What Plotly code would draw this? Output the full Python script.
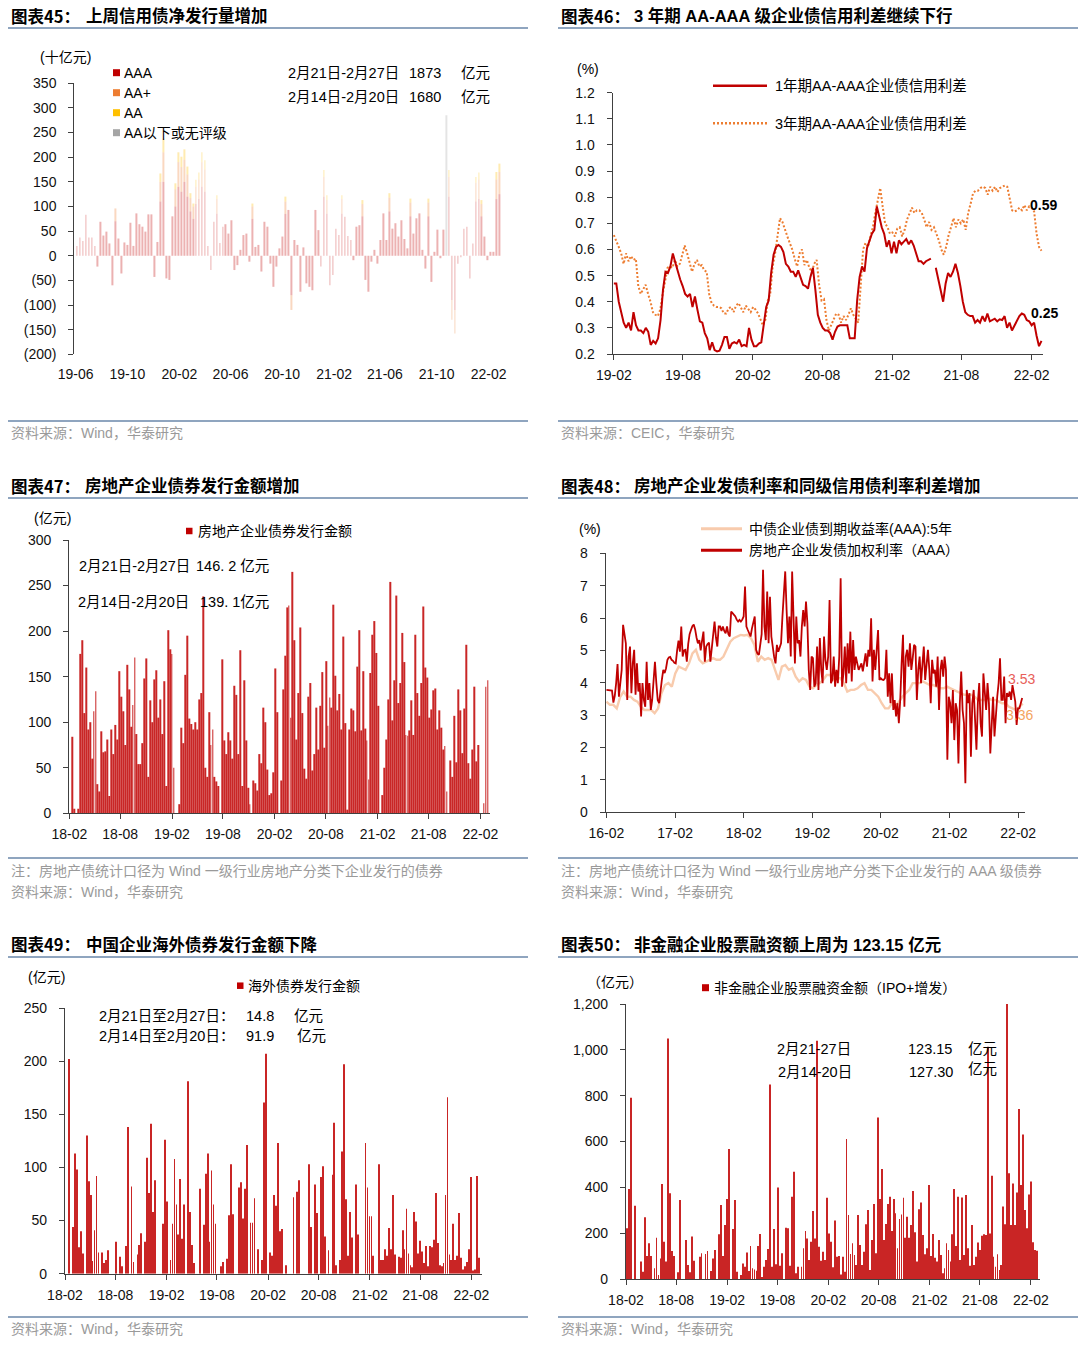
import plotly.graph_objects as go
import pandas as pd

W, H = 1080, 1345
CJK = "Noto Sans CJK SC"
MIX = "Liberation Sans, Noto Sans CJK SC"
LAT = "Liberation Sans, Arial, sans-serif"
RED = "#C00000"
AXIS = "#404040"
DAY = 86400000

# ---------------- 图表45: weekly net issuance by rating (十亿元) ----------------
p1_aaa = [20,37,30,83,37,37,20,-22,69,41,
          49,25,-60,70,35,-36,27,22,67,20,
          86,64,59,49,84,84,-43,28,110,150,
          -46,-49,80,100,140,130,150,120,90,75,
          105,115,140,130,20,-29,69,85,26,59,
          64,45,72,-29,-19,12,42,45,-12,75,
          18,22,-32,69,59,-16,-63,-22,15,39,
          85,93,-80,32,22,-73,17,-56,-63,-70,
          93,52,-22,120,85,-60,-39,55,42,85,
          79,40,32,-9,59,62,80,-49,-73,-12,
          12,-16,32,86,32,90,55,66,39,72,
          34,15,80,45,76,86,12,-26,80,-53,
          8,53,-5,53,0,120,-90,-110,-16,-2,
          55,59,-46,25,110,115,80,39,-9,8,
          8,115,125]
p1_aap = [0,0,0,0,0,0,0,0,0,0,
          0,0,0,26,0,0,0,0,0,0,
          0,0,0,0,0,0,0,0,40,60,
          0,0,0,35,50,50,45,45,27,25,
          35,40,50,45,0,0,0,30,0,0,
          0,0,0,0,0,0,0,0,0,25,
          0,0,0,0,0,0,0,0,0,0,
          25,0,-30,0,0,0,0,0,0,0,
          0,0,0,40,28,0,0,0,0,30,
          0,0,0,0,0,0,25,0,0,0,
          0,0,0,0,0,28,0,0,0,0,
          0,0,28,0,0,0,0,0,28,0,
          0,0,0,0,0,40,-40,-48,0,0,
          0,0,0,0,38,40,25,0,0,0,
          0,40,45]
p1_aa = [0,0,0,0,0,0,0,0,0,0,
         0,0,0,0,0,0,0,0,0,0,
         0,0,0,0,0,0,0,0,17,28,
         0,0,0,12,20,21,21,16,10,6,
         14,14,20,19,0,0,0,8,0,0,
         0,0,0,0,0,0,0,0,0,6,
         0,0,0,0,0,0,0,0,0,0,
         10,0,0,0,0,0,0,0,0,0,
         0,0,0,14,10,0,0,0,0,8,
         0,0,0,0,0,0,8,0,0,0,
         0,0,0,0,0,9,0,0,0,0,
         0,0,8,0,0,0,0,0,8,0,
         0,0,0,0,0,14,0,0,0,0,
         0,0,0,0,12,14,8,0,0,0,
         0,15,17]
p1_below = [0,0,0,0,0,0,0,0,0,0,
            0,0,0,0,0,0,0,0,0,0,
            0,0,0,0,0,0,0,0,0,0,
            0,0,0,0,0,0,0,0,0,0,
            0,0,0,0,0,0,0,0,0,0,
            0,0,0,0,0,0,0,0,0,0,
            0,0,0,0,0,0,0,0,0,0,
            0,0,0,0,0,0,0,0,0,0,
            0,0,0,0,0,0,0,0,0,0,
            0,0,0,0,0,0,0,0,0,0,
            0,0,0,0,0,0,0,0,0,0,
            0,0,0,0,0,0,0,0,0,0,
            0,0,0,0,285,0,0,0,0,0,
            0,0,0,0,0,0,0,0,0,0,
            0,0,0]
p1_dates = pd.date_range("2019-06-04", "2022-02-27", periods=len(p1_aaa))
p1_yticks = [350, 300, 250, 200, 150, 100, 50, 0, -50, -100, -150, -200]
p1_yticktext = ["350", "300", "250", "200", "150", "100", "50", "0", "(50)", "(100)", "(150)", "(200)"]

# ---------------- 图表46: AA-AAA credit spreads (%) ----------------
p2_1y = [0.47,0.47,0.40,0.36,0.32,0.30,0.32,0.29,0.36,0.31,
         0.29,0.29,0.28,0.30,0.285,0.235,0.25,0.24,0.26,0.33,
         0.445,0.515,0.51,0.535,0.585,0.55,0.515,0.485,0.46,0.43,
         0.42,0.43,0.38,0.42,0.37,0.325,0.32,0.28,0.26,0.215,
         0.245,0.215,0.21,0.213,0.235,0.265,0.265,0.22,0.24,0.245,
         0.24,0.255,0.23,0.235,0.23,0.30,0.255,0.23,0.23,0.24,
         0.245,0.31,0.38,0.405,0.51,0.58,0.61,0.617,0.61,0.59,
         0.545,0.535,0.515,0.515,0.495,0.52,0.49,0.465,0.46,0.45,
         0.495,0.53,0.445,0.35,0.32,0.30,0.29,0.29,0.28,0.255,
         0.285,0.305,0.31,0.31,0.31,0.31,0.26,0.26,0.26,0.405,
         0.495,0.535,0.515,0.605,0.635,0.66,0.675,0.765,0.725,0.685,
         0.66,0.61,0.635,0.585,0.63,0.585,0.635,0.62,0.63,0.64,
         0.62,0.635,0.615,0.585,0.555,0.555,0.545,0.555,0.56,0.565,
         None,0.53,0.485,0.445,0.40,0.47,0.51,0.495,0.515,0.545,
         0.51,0.46,0.40,0.36,0.35,0.345,0.345,0.32,0.33,0.32,
         0.345,0.325,0.355,0.325,0.33,0.335,0.325,0.333,0.33,0.345,
         0.30,0.32,0.29,0.31,0.325,0.345,0.355,0.35,0.33,0.325,
         0.31,0.32,0.27,0.23,0.25]
p2_3y = [0.655,0.635,0.61,0.585,0.545,0.585,0.555,0.575,0.56,0.565,
         0.46,0.43,0.445,0.465,0.43,0.40,0.36,0.35,0.345,0.37,
         0.43,0.485,0.53,0.535,0.53,0.56,0.535,0.545,0.585,0.615,
         0.585,0.545,0.515,0.545,0.56,0.535,0.54,0.52,0.515,0.43,
         0.395,0.385,0.38,0.38,0.375,0.355,0.355,0.375,0.38,0.36,
         0.385,0.395,0.375,0.36,0.385,0.37,0.36,0.38,0.37,0.355,
         0.335,0.31,0.33,0.405,0.43,0.535,0.585,0.66,0.72,0.705,
         0.675,0.65,0.625,0.60,0.565,0.535,0.585,0.60,0.54,0.56,
         0.53,0.515,0.545,0.56,0.465,0.405,0.41,0.33,0.29,0.31,
         0.33,0.355,0.35,0.32,0.345,0.33,0.35,0.375,0.35,0.335,
         0.32,0.46,0.60,0.625,0.61,0.65,0.685,0.74,0.79,0.835,
         0.765,0.70,0.685,0.66,0.665,0.65,0.68,0.685,0.65,0.675,
         0.715,0.74,0.76,0.74,0.75,0.75,0.74,0.715,0.685,0.705,
         0.675,0.685,0.66,0.635,0.60,0.58,0.61,0.655,0.685,0.72,
         0.685,0.715,0.70,0.715,0.675,0.74,0.775,0.815,0.825,0.825,
         0.835,0.84,0.835,0.81,0.84,0.825,0.84,0.82,0.835,0.84,
         0.845,0.84,0.80,0.75,0.745,0.75,0.76,0.75,0.77,0.75,
         0.765,0.76,0.745,0.66,0.61,0.595]
p2_1y_dates = pd.date_range("2019-02-01", "2022-02-27", periods=len(p2_1y))
p2_3y_dates = pd.date_range("2019-02-01", "2022-02-27", periods=len(p2_3y))

# ---------------- 图表47: real-estate bond issuance (亿元) ----------------
p3_issue = [0,84,5,0,5,175,190,110,160,92,
            100,60,112,134,32,24,90,67,68,81,
            19,92,65,97,81,156,128,112,75,163,
            136,95,119,171,87,54,54,77,148,170,
            40,124,100,147,157,105,125,87,145,30,
            201,180,175,50,0,0,10,94,77,152,
            195,104,98,92,100,92,125,132,238,50,
            40,111,75,92,40,35,30,0,169,80,
            65,89,80,60,140,130,65,179,30,146,
            80,28,10,0,36,33,25,65,55,116,
            100,48,20,22,45,159,111,0,
            36,136,173,226,228,105,265,190,81,132,
            204,110,49,38,128,143,47,65,116,70,
            118,155,72,167,96,127,116,229,151,113,
            131,92,194,99,4,92,115,113,90,161,
            201,91,156,93,80,37,154,196,211,176,
            118,0,20,50,81,125,254,102,146,239,
            121,143,198,166,86,85,91,124,86,196,
            132,107,143,227,160,149,105,114,135,137,
            92,113,94,70,74,24,0,58,40,107,
            56,136,113,66,115,185,55,38,70,139,
            57,75,0,0,11,139,146]
p3_dates = pd.date_range("2018-02-05", "2022-02-27", periods=len(p3_issue))

# ---------------- 图表48: yields (%) ----------------
p4_rate = [3.78,3.78,3.78,3.77,3.76,3.39,3.6,3.99,4.58,3.57,3.9,4.40,5.79,5.4,5.22,3.47,4.81,5.12,3.68,4.60,
           5.02,3.63,4.60,3.73,3.99,2.96,3.99,3.47,3.26,4.65,3.47,3.99,3.16,3.47,3.99,4.65,3.99,3.47,3.37,
           3.8,4.1,4.4,4.3,4.45,4.71,4.78,4.8,4.71,4.68,4.62,4.6,5.0,5.3,4.96,5.74,
           4.81,5.0,5.02,4.65,5.2,5.5,5.63,5.75,5.8,5.65,
           5.4,5.22,5.32,5.0,5.3,5.58,4.65,5.12,5.2,5.24,
           4.65,5.1,5.32,5.89,5.4,5.12,5.74,5.74,5.6,5.74,
           5.6,5.53,5.74,5.5,5.43,6.20,6.15,6.1,6.05,5.95,
           5.89,5.94,5.89,5.95,6.05,6.97,5.74,5.63,5.5,5.43,
           5.68,5.9,6.05,5.02,4.9,4.86,5.17,5.5,7.49,5.74,
           5.32,6.82,5.22,6.66,5.43,5.02,4.80,4.60,5.17,4.96,
           5.1,5.22,6.05,6.66,7.44,6.25,5.22,6.05,4.81,7.44,
           5.84,4.60,6.05,5.22,5.32,4.81,5.74,6.25,5.74,6.51,
           5.84,4.40,3.78,4.81,4.76,3.88,3.99,5.12,3.78,5.38,
           4.40,3.99,5.43,4.71,4.40,4.81,6.56,3.99,4.09,4.81,
           3.88,4.40,3.99,4.81,7.23,3.88,4.29,5.12,3.99,5.22,
           4.29,5.58,4.04,5.32,4.40,4.81,4.60,4.40,4.5,4.60,
           4.35,4.7,4.91,4.5,5.02,4.81,5.99,4.04,5.02,4.40,
           5.22,5.63,4.09,4.14,4.1,4.09,4.14,5.02,3.57,
           4.29,3.37,4.29,3.16,3.47,2.96,3.37,2.75,3.47,4.60,
           5.48,3.26,4.81,5.02,4.50,5.22,4.40,4.76,5.17,5.12,
           3.47,4.40,4.81,3.99,4.65,5.12,4.09,4.65,5.02,4.40,
           3.37,4.71,4.29,4.40,3.88,4.81,3.16,4.40,4.71,4.19,
           4.81,4.40,1.62,3.57,3.37,2.75,3.78,2.23,3.37,3.16,
           1.51,3.37,4.35,3.16,2.75,0.90,3.78,3.37,3.68,1.72,
           3.37,3.78,2.54,1.93,3.37,3.99,2.75,2.34,4.29,3.57,
           3.16,3.99,3.37,1.82,2.96,3.57,2.34,3.16,3.57,3.99,
           4.76,3.47,3.47,4.19,2.75,3.68,3.57,3.73,3.47,3.93,
           3.68,3.42,2.70,3.21,3.21,3.37,3.53]
p4_yield = [3.42,3.32,3.32,3.21,3.57,3.73,3.57,3.57,3.47,3.42,
            3.26,3.16,3.16,3.16,3.06,3.21,3.68,3.93,3.99,3.88,
            4.29,4.50,4.45,4.40,4.60,4.91,5.02,4.71,4.60,4.65,
            4.71,4.76,4.71,4.71,4.81,5.02,5.27,5.38,5.43,5.48,
            5.46,5.48,5.38,5.17,4.65,4.81,4.71,4.76,4.71,4.40,
            4.09,4.50,4.55,4.40,4.45,4.19,4.04,4.14,4.09,3.88,
            3.83,3.93,3.99,4.09,4.24,4.24,4.09,4.14,4.14,3.99,
            3.73,3.78,3.78,3.83,3.93,3.99,3.78,3.78,3.68,3.57,
            3.37,3.21,3.21,3.37,3.26,3.42,3.57,3.68,3.78,3.99,
            3.99,3.99,4.04,3.99,3.93,3.93,3.88,3.83,3.83,3.88,
            3.83,3.78,3.73,3.68,3.63,3.63,3.63,3.57,3.47,3.47,
            3.47,3.52,3.47,3.47,3.42,3.37,3.37,3.26,3.21,3.16,
            3.26,3.36]
p4_rate_dates = pd.date_range("2016-02-01", "2022-02-22", periods=len(p4_rate))
p4_yield_dates = pd.date_range("2016-02-01", "2022-02-25", periods=len(p4_yield))

# ---------------- 图表49: overseas bond issuance (亿元) ----------------
p5_overseas = [0,0,202,0,44,113,98,25,40,19,
               0,130,87,74,12,41,92,20,0,20,
               10,13,22,0,0,0,30,0,16,7,
               0,26,138,0,82,11,0,18,27,38,
               0,30,109,76,141,58,88,0,0,0,
               47,126,68,0,13,47,108,65,37,89,
               33,65,0,181,58,27,10,0,0,80,
               0,46,94,113,30,97,65,47,0,0,
               7,11,0,14,55,103,56,0,0,81,
               86,52,80,121,0,48,48,71,0,23,
               0,13,161,207,0,20,17,74,64,123,
               40,42,0,8,0,0,0,72,0,77,
               88,0,0,0,0,103,44,0,84,57,
               0,91,101,35,0,22,0,93,142,8,
               0,13,115,197,70,17,58,34,0,84,
               37,0,0,0,123,81,54,54,17,0,
               0,103,13,13,23,17,43,23,74,18,
               0,16,15,41,23,61,19,8,6,58,
               49,19,31,21,10,26,7,26,25,32,
               76,29,8,7,10,74,166,18,13,47,
               13,17,57,15,4,7,11,23,91,3,
               4,92,15]
p5_dates = pd.date_range("2018-02-02", "2022-02-27", periods=len(p5_overseas))

# ---------------- 图表50: non-financial equity financing (亿元) ----------------
p6_equity = [221,393,791,0,320,0,0,76,32,269,
             100,156,100,0,47,180,17,90,415,163,
             76,1050,374,122,100,0,29,345,0,0,
             170,61,29,185,80,0,0,97,112,0,
             109,122,0,35,90,127,0,195,323,100,
             236,349,567,0,218,345,32,0,17,68,
             54,116,35,144,47,42,36,144,196,7,
             54,83,131,849,54,218,64,399,58,112,
             0,224,221,58,359,468,25,54,0,54,
             134,209,177,83,163,297,177,1040,141,80,
             119,83,355,199,163,51,255,97,100,20,
             97,32,611,279,109,156,105,61,279,148,
             61,119,239,301,39,170,327,112,705,349,
             480,170,240,327,359,209,349,287,134,262,
             282,355,180,272,180,236,384,204,76,304,
             334,192,108,134,410,100,196,93,76,170,
             105,25,47,156,127,76,195,393,144,359,
             83,356,105,367,134,58,236,61,97,159,
             127,189,195,192,1014,199,451,97,54,108,
             39,61,316,239,1203,461,236,417,236,378,
             742,410,631,301,221,369,425,160,127,123]
p6_dates = pd.date_range("2018-02-05", "2022-02-22", periods=len(p6_equity))


# ---------------- helpers ----------------
def X(px):
    return px / W


def Y(py):
    return 1 - py / H


TICKFONT = dict(family=LAT, size=14, color="#111111")


def xax(x0, x1, ybottom_anchor, rng, tick0, dtick, **kw):
    d = dict(domain=[X(x0), X(x1)], range=rng, type="date", tick0=tick0, dtick=dtick,
             tickformat="%y-%m", anchor=ybottom_anchor, showline=True, linecolor=AXIS,
             linewidth=1.3, ticks="outside", ticklen=5, tickwidth=1.2, tickcolor=AXIS,
             showgrid=False, zeroline=False, tickfont=TICKFONT, ticklabelstandoff=3,
             fixedrange=True, automargin=False)
    d.update(kw)
    return d


def yax(ytop, ybot, xanchor, rng, **kw):
    d = dict(domain=[Y(ybot), Y(ytop)], range=rng, anchor=xanchor, showline=True,
             linecolor=AXIS, linewidth=1.3, ticks="outside", ticklen=5, tickwidth=1.2,
             tickcolor=AXIS, showgrid=False, zeroline=False, tickfont=TICKFONT,
             ticklabelstandoff=9, fixedrange=True, automargin=False)
    d.update(kw)
    return d


fig = go.Figure()

# Panel 1 stacked bars (thin, pale)
for vals, col in [(p1_aaa, "#C00000"), (p1_aap, "#ED7D31"), (p1_aa, "#FFC000"), (p1_below, "#A5A5A5")]:
    fig.add_trace(go.Bar(x=p1_dates, y=vals, marker=dict(color=col, line=dict(width=0)),
                         opacity=0.3, width=1.8 * DAY, xaxis="x", yaxis="y", hoverinfo="skip"))

# Panel 2 lines
fig.add_trace(go.Scatter(x=p2_3y_dates, y=p2_3y, mode="lines", xaxis="x2", yaxis="y2",
                         line=dict(color="#ED7D31", width=2, dash="2px,2px"), hoverinfo="skip"))
fig.add_trace(go.Scatter(x=p2_1y_dates, y=p2_1y, mode="lines", xaxis="x2", yaxis="y2",
                         line=dict(color=RED, width=2), connectgaps=False, hoverinfo="skip"))

# Panel 3 bars
fig.add_trace(go.Bar(x=p3_dates, y=p3_issue, marker=dict(color=RED, line=dict(width=0)),
                     opacity=0.85, width=3.2 * DAY, xaxis="x3", yaxis="y3", hoverinfo="skip"))

# Panel 4 lines
fig.add_trace(go.Scatter(x=p4_yield_dates, y=p4_yield, mode="lines", xaxis="x4", yaxis="y4",
                         line=dict(color="#F8CBAD", width=2.4), hoverinfo="skip"))
fig.add_trace(go.Scatter(x=p4_rate_dates, y=p4_rate, mode="lines", xaxis="x4", yaxis="y4",
                         line=dict(color=RED, width=1.8), hoverinfo="skip"))

# Panel 5 bars
fig.add_trace(go.Bar(x=p5_dates, y=p5_overseas, marker=dict(color=RED, line=dict(width=0)),
                     opacity=0.85, width=3.0 * DAY, xaxis="x5", yaxis="y5", hoverinfo="skip"))

# Panel 6 bars
fig.add_trace(go.Bar(x=p6_dates, y=p6_equity, marker=dict(color=RED, line=dict(width=0)),
                     opacity=0.85, width=3.0 * DAY, xaxis="x6", yaxis="y6", hoverinfo="skip"))

layout = dict(
    width=W, height=H, autosize=False,
    margin=dict(l=0, r=0, t=0, b=0, pad=0, autoexpand=False),
    paper_bgcolor="white", plot_bgcolor="rgba(0,0,0,0)",
    showlegend=False, barmode="relative",
    font=dict(family=MIX, color="#000"),
)

# Panel 1 axes
layout["xaxis"] = xax(74.4, 503, "y", ["2019-05-29", "2022-03-07"], "2019-06-01", "M4",
                      showline=False, ticks="", ticklabelstandoff=10)
layout["yaxis"] = yax(83.3, 354.3, "x", [-200, 350], tickvals=p1_yticks, ticktext=p1_yticktext)
layout["xaxis7"] = xax(74.4, 503, "free", ["2019-05-29", "2022-03-07"], "2019-06-01", "M4",
                       overlaying="x", position=Y(255.7), showticklabels=False, ticklen=4)
# Panel 2 axes
layout["xaxis2"] = xax(612.7, 1043, "y2", ["2019-01-29", "2022-03-03"], "2019-02-01", "M6")
layout["yaxis2"] = yax(92.7, 354, "x2", [0.2, 1.2], dtick=0.1, tick0=0.2, tickformat=".1f")
# Panel 3 axes
layout["xaxis3"] = xax(69.3, 490, "y3", ["2018-02-01", "2022-03-07"], "2018-02-01", "M6")
layout["yaxis3"] = yax(540, 813.3, "x3", [0, 300], dtick=50, tick0=0)
# Panel 4 axes
layout["xaxis4"] = xax(605.7, 1025, "y4", ["2016-01-28", "2022-03-09"], "2016-02-01", "M12")
layout["yaxis4"] = yax(553.3, 812.3, "x4", [0, 8], dtick=1, tick0=0)
# Panel 5 axes
layout["xaxis5"] = xax(65, 482, "y5", ["2018-02-01", "2022-03-11"], "2018-02-01", "M6")
layout["yaxis5"] = yax(1008, 1273.7, "x5", [0, 250], dtick=50, tick0=0)
# Panel 6 axes
layout["xaxis6"] = xax(626, 1040, "y6", ["2018-02-01", "2022-03-06"], "2018-02-01", "M6")
layout["yaxis6"] = yax(1004, 1279, "x6", [0, 1200], dtick=200, tick0=0, tickformat=",d")

fig.update_layout(**layout)

annotations = []
shapes = []


def ann(x, y, text, size=14, color="#000", anchor="left", family=MIX):
    annotations.append(dict(x=X(x), y=Y(y), xref="paper", yref="paper", text=text,
                            showarrow=False, xanchor=anchor, yanchor="middle", borderpad=0,
                            font=dict(family=family, size=size, color=color)))


def hline(x0, x1, y, color="#8FA5BF", width=2, dash=None):
    ln = dict(color=color, width=width)
    if dash:
        ln["dash"] = dash
    shapes.append(dict(type="line", xref="paper", yref="paper", x0=X(x0), x1=X(x1),
                       y0=Y(y), y1=Y(y), line=ln))


def square(x0, x1, yc, color):
    h = (x1 - x0) / 2
    shapes.append(dict(type="rect", xref="paper", yref="paper", x0=X(x0), x1=X(x1),
                       y0=Y(yc + h), y1=Y(yc - h), fillcolor=color, line=dict(width=0)))


# titles
TT = 16.5
for (lx, tx, y, lab, txt) in [
    (10, 84.8, 16, "图表45：", "上周信用债净发行量增加"),
    (560, 632.7, 16, "图表46：", "3 年期 AA-AAA 级企业债信用利差继续下行"),
    (10, 83.7, 486, "图表47：", "房地产企业债券发行金额增加"),
    (560, 632.7, 486, "图表48：", "房地产企业发债利率和同级信用债利率利差增加"),
    (10, 84.8, 944, "图表49：", "中国企业海外债券发行金额下降"),
    (560, 633.4, 944, "图表50：", "非金融企业股票融资额上周为 123.15 亿元"),
]:
    ann(lx, y, "<b>" + lab + "</b>", size=TT, family=CJK)
    ann(tx, y, "<b>" + txt + "</b>", size=TT, family=MIX)

# header / footer rules
for (x0, x1) in [(8, 528), (558, 1078)]:
    for y in [28, 421, 498, 858, 957, 1317]:
        hline(x0, x1, y)

GRAY = "#9A9A9A"
ann(10, 433, "资料来源：Wind，华泰研究", 14, GRAY)
ann(560, 433, "资料来源：CEIC，华泰研究", 14, GRAY)
ann(10, 871, "注：房地产债统计口径为 Wind 一级行业房地产分类下企业发行的债券", 14, GRAY)
ann(10, 892, "资料来源：Wind，华泰研究", 14, GRAY)
ann(560, 871, "注：房地产债统计口径为 Wind 一级行业房地产分类下企业发行的 AAA 级债券", 14, GRAY)
ann(560, 892, "资料来源：Wind，华泰研究", 14, GRAY)
ann(10, 1329, "资料来源：Wind，华泰研究", 14, GRAY)
ann(560, 1329, "资料来源：Wind，华泰研究", 14, GRAY)

# Panel 1 texts
ann(65, 57.3, "(十亿元)", 14, anchor="center")
for yc, col, lab in [(72.7, "#C00000", "AAA"), (92.7, "#ED7D31", "AA+"),
                     (112.7, "#FFC000", "AA"), (132.7, "#A5A5A5", "AA以下或无评级")]:
    square(113, 120, yc, col)
    ann(122.5, yc, lab, 14)
ann(287, 72.7, "2月21日-2月27日", 14.5)
ann(408, 72.7, "1873", 14.5)
ann(459.5, 72.7, "亿元", 14.5)
ann(287, 96.7, "2月14日-2月20日", 14.5)
ann(408, 96.7, "1680", 14.5)
ann(459.5, 96.7, "亿元", 14.5)

# Panel 2 texts
ann(588, 69, "(%)", 14, anchor="center")
hline(713, 767, 85.7, color=RED, width=2.6)
hline(713, 767, 123.3, color="#ED7D31", width=2.6, dash="2px,2px")
ann(773.6, 85.7, "1年期AA-AAA企业债信用利差", 14.5)
ann(773.6, 123.3, "3年期AA-AAA企业债信用利差", 14.5)
ann(1043.5, 205, "<b>0.59</b>", 14, anchor="center", family=LAT)
ann(1044.6, 313.3, "<b>0.25</b>", 14, anchor="center", family=LAT)

# Panel 3 texts
ann(52, 518, "(亿元)", 14, anchor="center")
square(186, 192.5, 531, RED)
ann(196.5, 531, "房地产企业债券发行金额", 14)
ann(78, 566, "2月21日-2月27日", 14.5)
ann(194.7, 566, "146. 2 亿元", 14.5)
ann(77, 601.7, "2月14日-2月20日", 14.5)
ann(199.3, 601.7, "139. 1亿元", 14.5)

# Panel 4 texts
ann(590, 528.7, "(%)", 14, anchor="center")
hline(701, 742, 528.7, color="#F8CBAD", width=3)
hline(701, 742, 550.3, color=RED, width=3)
ann(747.6, 528.7, "中债企业债到期收益率(AAA):5年", 14)
ann(747.6, 550.3, "房地产企业发债加权利率（AAA）", 14)
ann(1021.6, 679.3, "3.53", 14, color="#E8605A", anchor="center", family=LAT)
ann(1019.7, 715, "3.36", 14, color="#F4A460", anchor="center", family=LAT)

# Panel 5 texts
ann(46.5, 976.7, "(亿元)", 14, anchor="center")
square(237, 243.5, 985.7, RED)
ann(247.4, 985.7, "海外债券发行金额", 14)
ann(97.7, 1015.7, "2月21日至2月27日：", 14.5)
ann(245, 1015.7, "14.8", 14.5)
ann(292.7, 1015.7, "亿元", 14.5)
ann(97.7, 1035.7, "2月14日至2月20日：", 14.5)
ann(245, 1035.7, "91.9", 14.5)
ann(296, 1035.7, "亿元", 14.5)

# Panel 6 texts
ann(615, 982, "（亿元）", 14, anchor="center")
square(702, 709, 987.7, RED)
ann(713, 987.7, "非金融企业股票融资金额（IPO+增发）", 14)
ann(776, 1049, "2月21-27日", 14.5)
ann(776.5, 1072.3, "2月14-20日", 14.5)
ann(906.8, 1049, "123.15", 14.5)
ann(907.8, 1072.3, "127.30", 14.5)
ann(966.6, 1049, "亿元", 14.5)
ann(966.6, 1069, "亿元", 14.5)

fig.update_layout(annotations=annotations, shapes=shapes)

fig.write_html("out.html", include_plotlyjs=True, full_html=True,
               config={"displayModeBar": False},
               post_script="document.body.style.margin='0';document.body.style.overflow='hidden';")
